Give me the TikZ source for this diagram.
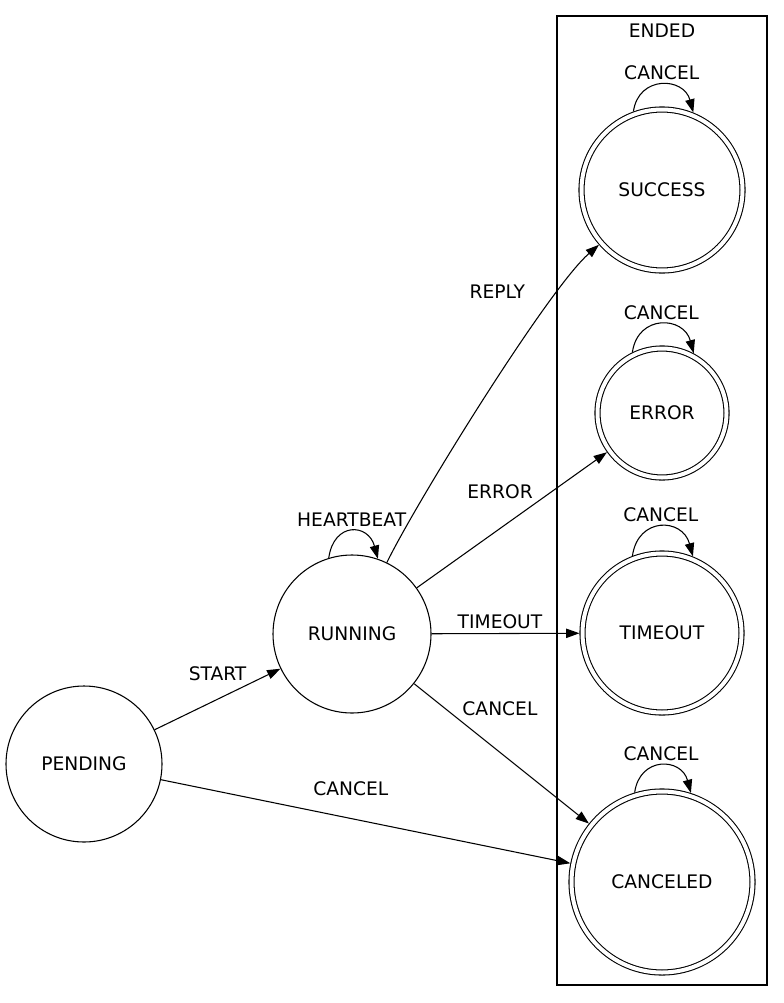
\documentclass[tikz,border=0pt]{standalone}
\usepackage{fontspec}
\setmainfont{DejaVu Sans}
\usetikzlibrary {arrows.meta, positioning, automata}

\begin{document}
\begin{tikzpicture}[
    x=0.75pt,
    y=-0.75pt,
    ->,
    >={Triangle[length=10pt, width=7pt]},
    line width=0.8pt,
    font=\fontsize{14pt}{17pt}\selectfont,
    every state/.style={minimum size=0pt, inner sep=0pt},
    final/.style={state, accepting, double distance=3pt, outer sep=2.3pt},
    self/.style={out=82, in=105, min distance=#1, max distance=#1},
    self/.default=27.6pt,
]

    \useasboundingbox (0, 0) rectangle (784, 1003);

    \node[rectangle, draw, minimum width = 157.5pt, minimum height = 726.75pt] (ENDED) at (662, 500.5) {};
    \node[below = 6pt of ENDED.north, inner sep = 0pt] (ENDEDtitle) {ENDED};

    \node[state, minimum size = 117pt]    (PENDING)  at (84, 764)  {PENDING};
    \node[state, minimum size = 118.5pt]  (RUNNING)  at (352, 634) {RUNNING};
    \node[final, minimum size = 120.75pt] (SUCCESS)  at (662, 190) {SUCCESS};
    \node[final, minimum size = 96.75pt]  (ERROR)    at (662, 413) {ERROR};
    \node[final, minimum size = 119.25pt] (TIMEOUT)  at (662, 633) {TIMEOUT};
    \node[final, minimum size = 135.75pt] (CANCELED) at (662, 882) {CANCELED};

    \path
        (PENDING)      edge                                       node [above = 9.75pt]            {START}     (RUNNING)
        (PENDING)      edge                                       node [pos = .464, above = 13pt]  {CANCEL}    (CANCELED)
        (RUNNING.107)  edge [self]                                node [above]                     {HEARTBEAT} (RUNNING.71)
        (RUNNING)      edge [out = 64, in = 221, looseness = .45] node [pos = .79, left = 21pt]    {REPLY}     (SUCCESS)
        (RUNNING)      edge                                       node [pos = .438, above = 18.4pt] {ERROR}    (ERROR)
        (RUNNING)      edge                                       node [pos = .463, above]         {TIMEOUT}   (TIMEOUT)
        (RUNNING)      edge                                       node [pos = .491, above = 24pt]  {CANCEL}    (CANCELED)
        (SUCCESS.110)  edge [self]                                node [above]                     {CANCEL}    (SUCCESS.68)
        (ERROR.116)    edge [self = 29pt]                         node [above]                     {CANCEL}    (ERROR.62)
        (TIMEOUT.111)  edge [self = 30pt]                         node [above]                     {CANCEL}    (TIMEOUT.68)
        (CANCELED.107) edge [self]                                node [above]                     {CANCEL}    (CANCELED.72)
    ;
\end{tikzpicture}
\end{document}
